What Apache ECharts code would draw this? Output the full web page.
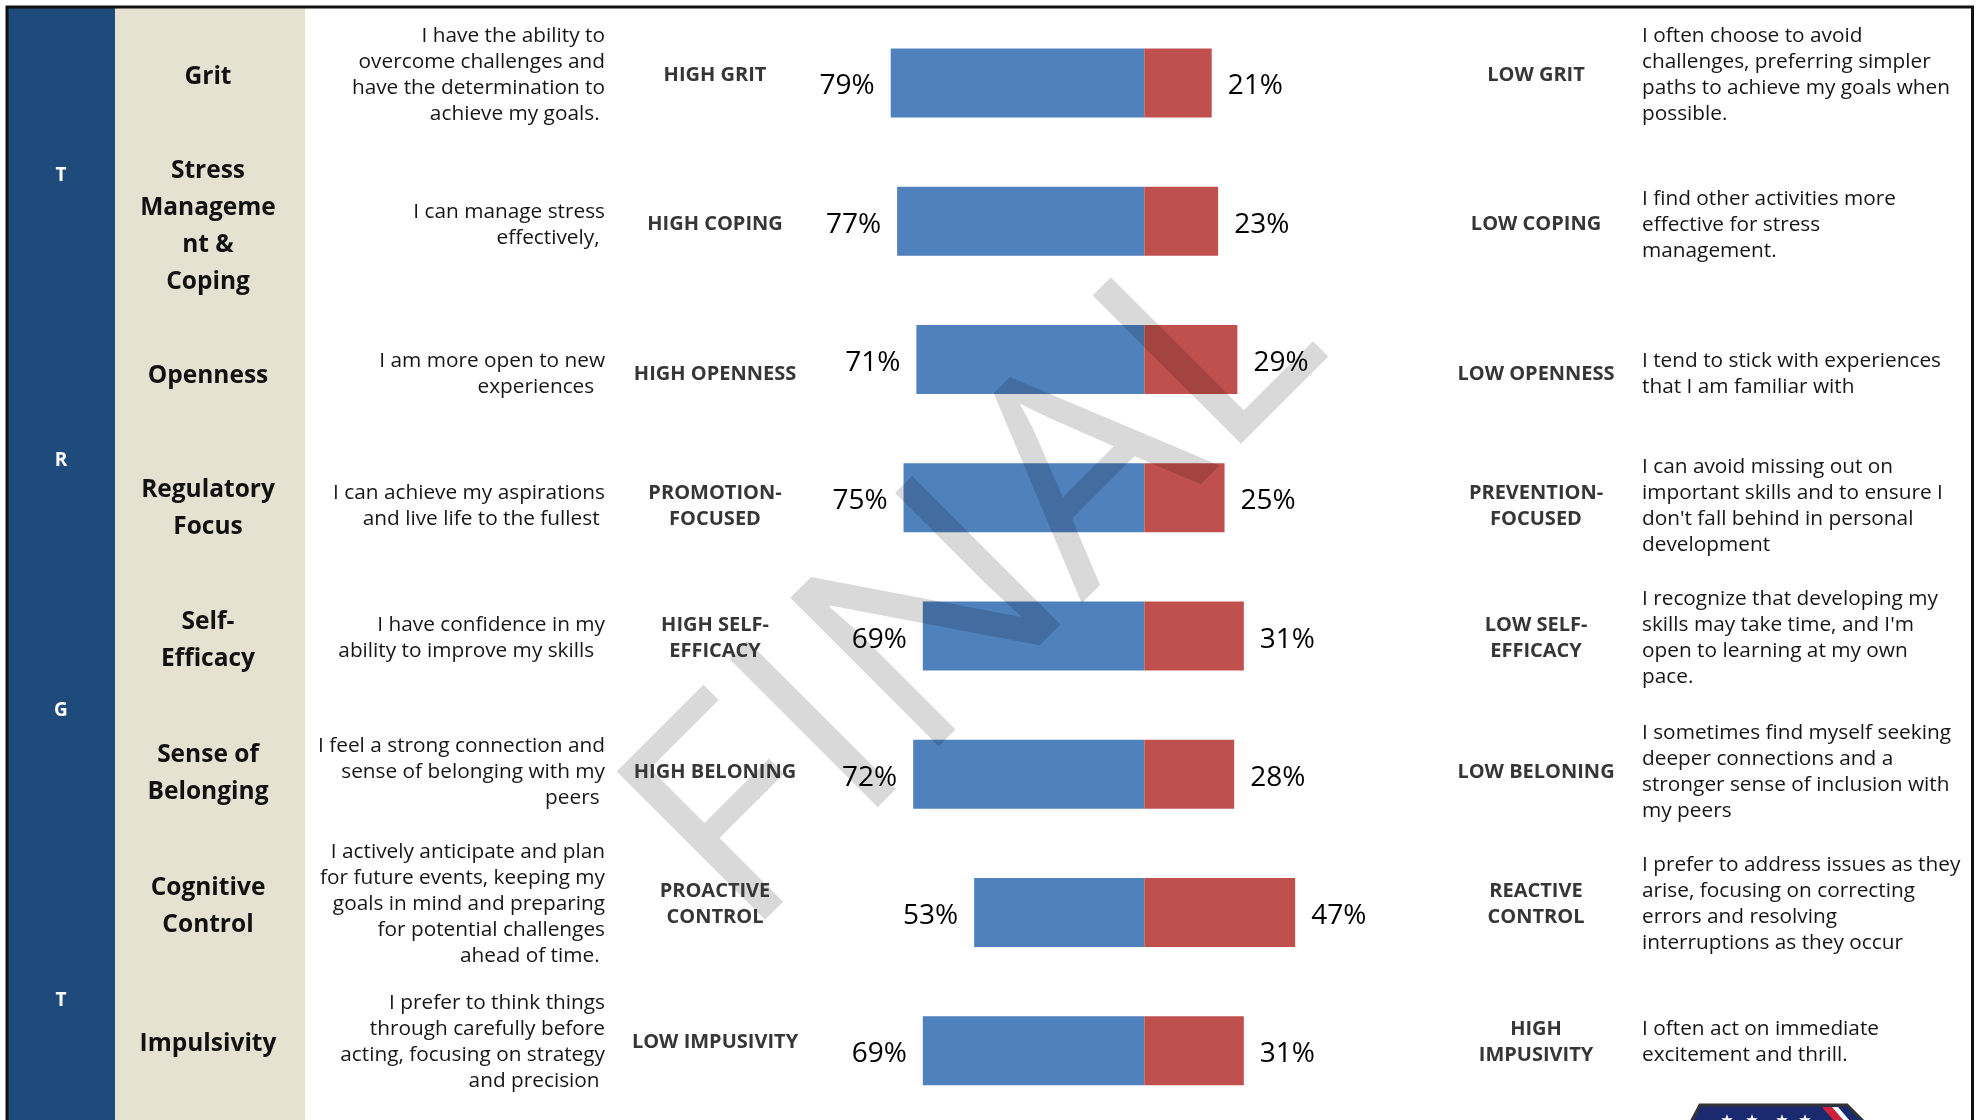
<!DOCTYPE html>
<html><head><meta charset="utf-8">
<script src="https://cdn.jsdelivr.net/npm/echarts@6/dist/echarts.min.js"></script>
<style>html,body{margin:0;padding:0;background:#fff}#c{width:1977px;height:1120px}</style>
</head><body><div id="c"></div>
<script>
// ---------- data ----------
const traits = ['Grit', 'Stress\nManageme\nnt &\nCoping', 'Openness', 'Regulatory\nFocus', 'Self-\nEfficacy', 'Sense of\nBelonging', 'Cognitive\nControl', 'Impulsivity'];
const highPct = [79, 77, 71, 75, 69, 72, 53, 69];
const lowPct = [21, 23, 29, 25, 31, 28, 47, 31];
const highDesc = [
  'I have the ability to\novercome challenges and\nhave the determination to\nachieve my goals. ',
  'I can manage stress\neffectively, ',
  'I am more open to new\nexperiences  ',
  'I can achieve my aspirations\nand live life to the fullest ',
  'I have confidence in my\nability to improve my skills  ',
  'I feel a strong connection and\nsense of belonging with my\npeers ',
  'I actively anticipate and plan\nfor future events, keeping my\ngoals in mind and preparing\nfor potential challenges\nahead of time. ',
  'I prefer to think things\nthrough carefully before\nacting, focusing on strategy\nand precision '
];
const highLabels = ['HIGH GRIT', 'HIGH COPING', 'HIGH OPENNESS', 'PROMOTION-\nFOCUSED', 'HIGH SELF-\nEFFICACY', 'HIGH BELONING', 'PROACTIVE\nCONTROL', 'LOW IMPUSIVITY'];
const lowLabels = ['LOW GRIT', 'LOW COPING', 'LOW OPENNESS', 'PREVENTION-\nFOCUSED', 'LOW SELF-\nEFFICACY', 'LOW BELONING', 'REACTIVE\nCONTROL', 'HIGH\nIMPUSIVITY'];
const lowDesc = [
  'I often choose to avoid\nchallenges, preferring simpler\npaths to achieve my goals when\npossible.',
  'I find other activities more\neffective for stress\nmanagement.',
  'I tend to stick with experiences\nthat I am familiar with',
  "I can avoid missing out on\nimportant skills and to ensure I\ndon't fall behind in personal\ndevelopment",
  "I recognize that developing my\nskills may take time, and I'm\nopen to learning at my own\npace.",
  'I sometimes find myself seeking\ndeeper connections and a\nstronger sense of inclusion with\nmy peers',
  'I prefer to address issues as they\narise, focusing on correcting\nerrors and resolving\ninterruptions as they occur',
  'I often act on immediate\nexcitement and thrill.'
];
const sideLetters = ['T', 'R', 'G', 'T'];
const watermarkText = 'FINAL';

// ---------- layout (not data) ----------
const sideLetterY = [176, 461, 711, 1001];
const textShift = [-11, 0, 11, 5, -1, -6, -12, -12];
const TEXT_DY = 3.5;
const FONT = "'Open Sans', sans-serif";

const chart = echarts.init(document.getElementById('c'), null, {renderer: 'canvas'});
chart.setOption({
  animation: false,
  backgroundColor: '#ffffff',
  grid: {left: 823.3, width: 642, top: 13.8, height: 1113.6},
  xAxis: {type: 'value', min: -100, max: 100, show: false},
  yAxis: {type: 'category', data: traits, inverse: true, show: false},
  series: [
    {
      type: 'bar', stack: 'row', data: highPct.map(v => -v), barWidth: 69,
      itemStyle: {color: '#4F81BD'}, z: 3,
      label: {show: true, position: 'left', distance: 16, offset: [0, 3.5], formatter: p => Math.abs(p.value) + '%',
        fontFamily: FONT, fontSize: 28, color: '#000'}
    },
    {
      type: 'bar', stack: 'row', data: lowPct, barWidth: 69,
      itemStyle: {color: '#C0504D'}, z: 3,
      label: {show: true, position: 'right', distance: 16, offset: [0, 3.5], formatter: '{c}%',
        fontFamily: FONT, fontSize: 28, color: '#000'}
    }
  ]
});

const rowY = traits.map((t, i) => chart.convertToPixel({yAxisIndex: 0}, i));
const g = [];
// background columns and frame
g.push({type: 'rect', z: -5, shape: {x: 7, y: 7, width: 108, height: 1120}, style: {fill: '#1F4A7C'}});
g.push({type: 'rect', z: -5, shape: {x: 115, y: 7, width: 190, height: 1120}, style: {fill: '#E5E2D2'}});
g.push({type: 'rect', z: 200, shape: {x: 7, y: 7, width: 1965.5, height: 1130}, style: {fill: null, stroke: '#111', lineWidth: 3}});
sideLetters.forEach((l, i) => g.push({type: 'text', z: 100, x: 61, y: sideLetterY[i],
  style: {text: l, fontFamily: FONT, fontWeight: 'bold', fontSize: 19, fill: '#fff', align: 'center', verticalAlign: 'middle'}}));

traits.forEach((t, i) => {
  const y = rowY[i] + textShift[i] + TEXT_DY;
  g.push({type: 'text', z: 100, x: 208, y: y + 2,
    style: {text: t, fontFamily: FONT, fontWeight: 'bold', fontSize: 24.5, lineHeight: 37, fill: '#111', align: 'center', verticalAlign: 'middle'}});
  g.push({type: 'text', z: 100, x: 605, y: y,
    style: {text: highDesc[i], fontFamily: FONT, fontSize: 20.8, lineHeight: 26, fill: '#161616', align: 'right', verticalAlign: 'middle'}});
  g.push({type: 'text', z: 100, x: 715, y: y,
    style: {text: highLabels[i], fontFamily: FONT, fontWeight: 'bold', fontSize: 20, lineHeight: 26, fill: '#363636', align: 'center', verticalAlign: 'middle'}});
  g.push({type: 'text', z: 100, x: 1536, y: y,
    style: {text: lowLabels[i], fontFamily: FONT, fontWeight: 'bold', fontSize: 20, lineHeight: 26, fill: '#363636', align: 'center', verticalAlign: 'middle'}});
  g.push({type: 'text', z: 100, x: 1642, y: y,
    style: {text: lowDesc[i], fontFamily: FONT, fontSize: 20.8, lineHeight: 26, fill: '#161616', align: 'left', verticalAlign: 'middle'}});
});

// watermark
g.push({type: 'text', z: 50, x: 979.5, y: 587, rotation: Math.PI / 4, scaleX: 1.05,
  style: {text: watermarkText, fontFamily: FONT, fontSize: 294, fill: 'rgba(0,0,0,0.15)', align: 'center', verticalAlign: 'middle'}});

// logo fragment at the bottom
g.push({type: 'polygon', z: 60, shape: {points: [[1700, 1105], [1847, 1105], [1864, 1122], [1691, 1122]]},
  style: {fill: '#1b2a6e', stroke: '#333', lineWidth: 3}});
g.push({type: 'polygon', z: 61, shape: {points: [[1822, 1107], [1832, 1107], [1844, 1121], [1834, 1121]]},
  style: {fill: '#d0203a'}});
g.push({type: 'polygon', z: 61, shape: {points: [[1832, 1107], [1838, 1107], [1850, 1121], [1844, 1121]]},
  style: {fill: '#ffffff'}});
[1727, 1752, 1782, 1805].forEach(x => g.push({type: 'text', z: 62, x: x, y: 1121,
  style: {text: '\u2605', fontFamily: "'DejaVu Sans'", fontSize: 15, fill: '#fff', align: 'center', verticalAlign: 'middle'}}));

chart.setOption({graphic: {elements: g}});
</script>
</body></html>
